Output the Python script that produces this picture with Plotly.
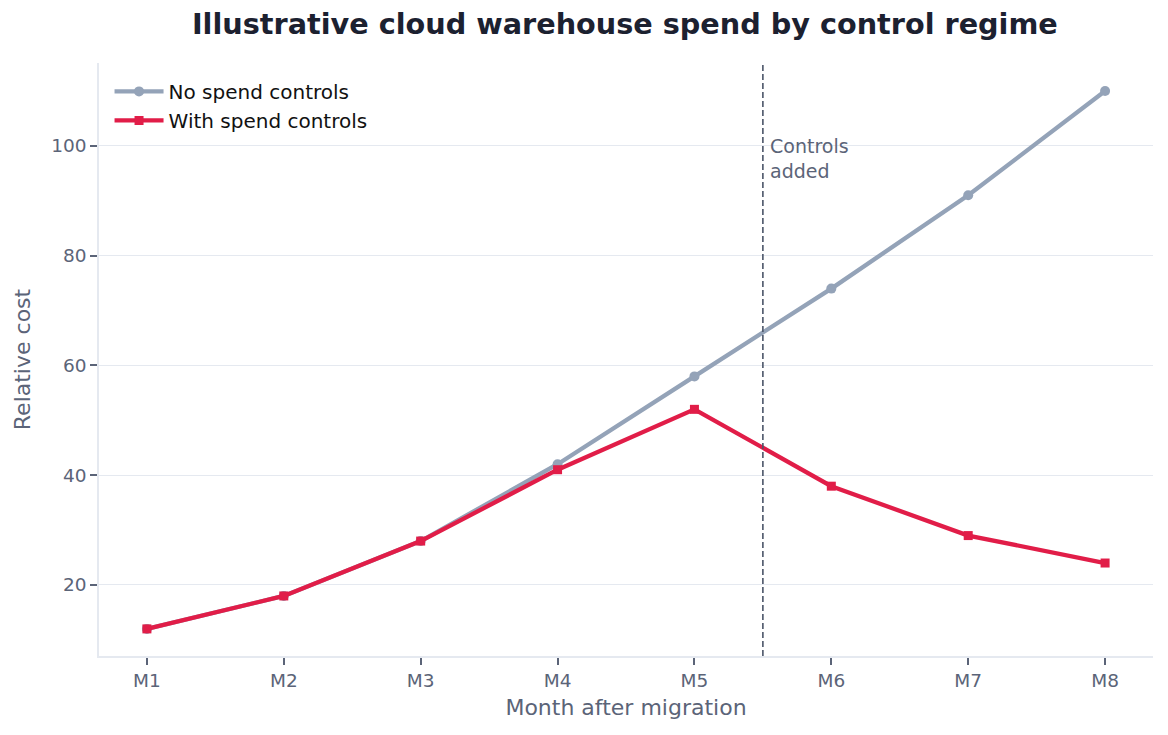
import plotly.graph_objects as go

months = ["M1", "M2", "M3", "M4", "M5", "M6", "M7", "M8"]
no_controls = [12, 18, 28, 42, 58, 74, 91, 110]
with_controls = [12, 18, 28, 41, 52, 38, 29, 24]
controls_at = 4.5

FONT = "DejaVu Sans"
TXT = "#5b6478"
GRID = "#e5e9f0"

x_idx = list(range(len(months)))

fig = go.Figure()
fig.add_trace(go.Scatter(
    x=x_idx, y=no_controls, mode="lines+markers", name="No spend controls",
    line=dict(color="#94a3b8", width=4.3),
    marker=dict(symbol="circle", size=10, color="#94a3b8"),
))
fig.add_trace(go.Scatter(
    x=x_idx, y=with_controls, mode="lines+markers", name="With spend controls",
    line=dict(color="#e11d48", width=4.3),
    marker=dict(symbol="square", size=9, color="#e11d48"),
))

fig.add_shape(type="line", x0=controls_at, x1=controls_at, y0=0, y1=1,
              xref="x", yref="paper",
              line=dict(color="#4b5568", width=1.6, dash="6px,3px"))
fig.add_annotation(x=controls_at, y=97.7, xref="x", yref="y",
                   text="Controls<br>added", showarrow=False,
                   xanchor="left", yanchor="middle", xshift=5, align="left",
                   font=dict(family=FONT, size=19, color=TXT))

fig.update_layout(
    width=1168, height=735,
    paper_bgcolor="white", plot_bgcolor="white",
    margin=dict(l=99, r=15, t=63, b=79),
    title=dict(text="<b>Illustrative cloud warehouse spend by control regime</b>",
               x=0.535, xanchor="center", y=1 - 14 / 735, yanchor="top",
               font=dict(family=FONT, size=28.7, color="#1c2130")),
    font=dict(family=FONT, size=18, color=TXT),
    showlegend=True,
    legend=dict(x=0.010, y=0.985, xanchor="left", yanchor="top",
                bgcolor="rgba(255,255,255,0)", borderwidth=0,
                font=dict(family=FONT, size=20, color="#111111"),
                itemwidth=49, tracegroupgap=0),
)
fig.update_xaxes(
    range=[-0.35, 7.35], tickmode="array", tickvals=x_idx, ticktext=months,
    showgrid=False, zeroline=False,
    showline=True, linecolor=GRID, linewidth=1.5, mirror=False,
    ticks="outside", ticklen=7, tickwidth=1.5, tickcolor=TXT,
    tickfont=dict(family=FONT, size=18.5, color=TXT),
    title=dict(text="Month after migration", font=dict(family=FONT, size=22, color=TXT), standoff=10),
)
fig.update_yaxes(
    range=[7.06, 115.1], tickvals=[20, 40, 60, 80, 100],
    showgrid=True, gridcolor=GRID, gridwidth=1.2, zeroline=False,
    showline=True, linecolor=GRID, linewidth=1.5,
    ticks="outside", ticklen=7, tickwidth=1.5, tickcolor=TXT,
    tickfont=dict(family=FONT, size=18.5, color=TXT),
    title=dict(text="Relative cost", font=dict(family=FONT, size=22, color=TXT), standoff=15),
)

fig.write_html("out.html")
